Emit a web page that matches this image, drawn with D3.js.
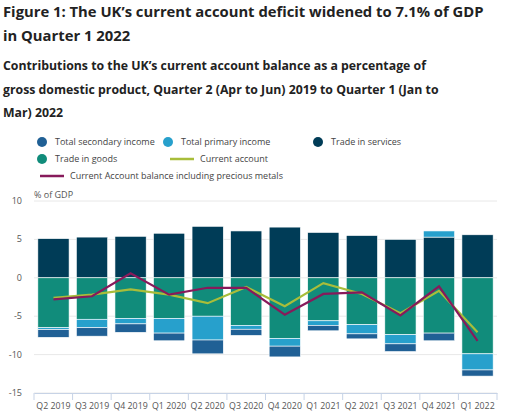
<!DOCTYPE html><html><head><meta charset="utf-8"><script src="https://cdn.jsdelivr.net/npm/d3@7"></script>
<style>body{margin:0;background:#fff;font-family:"Open Sans",sans-serif}</style></head><body><svg id="c" width="510" height="417"></svg>
<script>
const categories=["Q2 2019","Q3 2019","Q4 2019","Q1 2020","Q2 2020","Q3 2020","Q4 2020","Q1 2021","Q2 2021","Q3 2021","Q4 2021","Q1 2022"];
const tradeServices=[5.1,5.3,5.4,5.8,6.7,6.1,6.6,5.9,5.5,5.0,5.3,5.6];
const tradeGoods=[-6.5,-5.4,-5.3,-5.3,-5.0,-6.2,-7.9,-5.6,-6.1,-7.4,-7.2,-9.9];
const primaryIncome=[-0.25,-1.1,-0.7,-1.9,-3.1,-0.5,-1.0,-0.6,-1.2,-1.2,0.8,-2.1];
const secondaryIncome=[-1.0,-1.1,-1.1,-1.0,-1.8,-0.8,-1.4,-0.7,-0.65,-1.0,-1.0,-0.8];
const currentAccount=[-2.6,-2.2,-1.5,-2.2,-3.3,-1.2,-3.7,-0.7,-2.1,-4.6,-1.7,-7.1];
const caPrecious=[-2.8,-2.4,0.6,-2.2,-1.3,-1.3,-4.8,-2.1,-1.9,-4.9,-1.1,-8.2];
const yTicks=[10,5,0,-5,-10,-15];
const svg=d3.select("#c");
const t=svg.append("text").attr("font-weight","bold").attr("font-size",14.8).attr("fill","#222");
t.append("tspan").attr("x",3).attr("y",17).text("Figure 1: The UK’s current account deficit widened to 7.1% of GDP");
t.append("tspan").attr("x",3).attr("y",41).text("in Quarter 1 2022");
const s=svg.append("text").attr("font-weight","bold").attr("font-size",12.3).attr("fill","#222");
["Contributions to the UK’s current account balance as a percentage of","gross domestic product, Quarter 2 (Apr to Jun) 2019 to Quarter 1 (Jan to","Mar) 2022"].forEach((l,i)=>s.append("tspan").attr("x",3).attr("y",70+i*23.5).text(l));
const col={sec:"#206095",pri:"#27a0cc",srv:"#003c57",gds:"#118c7b",ca:"#a8bd3a",cap:"#871a5b"};
const lg=svg.append("g").attr("font-size",9).attr("fill","#444");
[[42,142,"sec","Total secondary income"],[168,142,"pri","Total primary income"],[318,142,"srv","Trade in services"],[42,159,"gds","Trade in goods"]].forEach(([x,y,k,l])=>{lg.append("circle").attr("cx",x).attr("cy",y).attr("r",5).attr("fill",col[k]);lg.append("text").attr("x",x+13).attr("y",y+3).attr("fill","#444").text(l);});
lg.append("line").attr("x1",170).attr("x2",194).attr("y1",159).attr("y2",159).attr("stroke",col.ca).attr("stroke-width",2.5);
lg.append("text").attr("x",200).attr("y",162).attr("fill","#444").text("Current account");
lg.append("line").attr("x1",40).attr("x2",64).attr("y1",176).attr("y2",176).attr("stroke",col.cap).attr("stroke-width",2.5);
lg.append("text").attr("x",70).attr("y",179).attr("fill","#444").text("Current Account balance including precious metals");
const x=d3.scaleBand().domain(categories).range([34,497]).paddingInner(0.19).paddingOuter(0.1);
const y=d3.scaleLinear().domain([-15,10]).range([393,201]);
svg.append("g").selectAll("line").data(yTicks).join("line").attr("x1",34).attr("x2",497).attr("y1",d=>y(d)).attr("y2",d=>y(d)).attr("stroke","#e8e8e8");
svg.append("g").attr("font-size",9).attr("fill","#555").selectAll("text").data(yTicks).join("text").attr("x",22).attr("y",d=>y(d)+3).attr("text-anchor","end").attr("fill","#555").text(d=>d);
svg.append("text").attr("x",34).attr("y",198).attr("font-size",9).attr("fill","#555").text("% of GDP");
const series=[["srv",tradeServices],["gds",tradeGoods],["pri",primaryIncome],["sec",secondaryIncome]];
categories.forEach((c,i)=>{let pos=0,neg=0;series.forEach(([k,arr])=>{const v=arr[i];let a,b;if(v>=0){a=pos;b=pos+v;pos=b;}else{a=neg;b=neg+v;neg=b;}
svg.append("rect").attr("x",x(c)).attr("width",x.bandwidth()).attr("y",y(Math.max(a,b))).attr("height",Math.abs(y(a)-y(b))).attr("fill",col[k]).attr("stroke","#fff").attr("stroke-width",0.6);});});
const xa=svg.append("g").attr("transform","translate(0,"+y(-15)+")").call(d3.axisBottom(x).tickSize(0).tickPadding(10));
xa.select(".domain").attr("stroke","#c7d3e6");xa.selectAll("text").attr("font-size",8.8).attr("fill","#555").attr("font-family","Open Sans");
svg.append("g").selectAll("line").data(d3.range(13)).join("line").attr("x1",d=>34+d*(463/12)).attr("x2",d=>34+d*(463/12)).attr("y1",y(-15)).attr("y2",y(-15)+7).attr("stroke","#c7d3e6");
const ln=d3.line().x((d,i)=>x(categories[i])+x.bandwidth()/2).y(d=>y(d));
svg.append("path").datum(currentAccount).attr("d",ln).attr("fill","none").attr("stroke",col.ca).attr("stroke-width",2.2);
svg.append("path").datum(caPrecious).attr("d",ln).attr("fill","none").attr("stroke",col.cap).attr("stroke-width",2.2);
</script></body></html>
